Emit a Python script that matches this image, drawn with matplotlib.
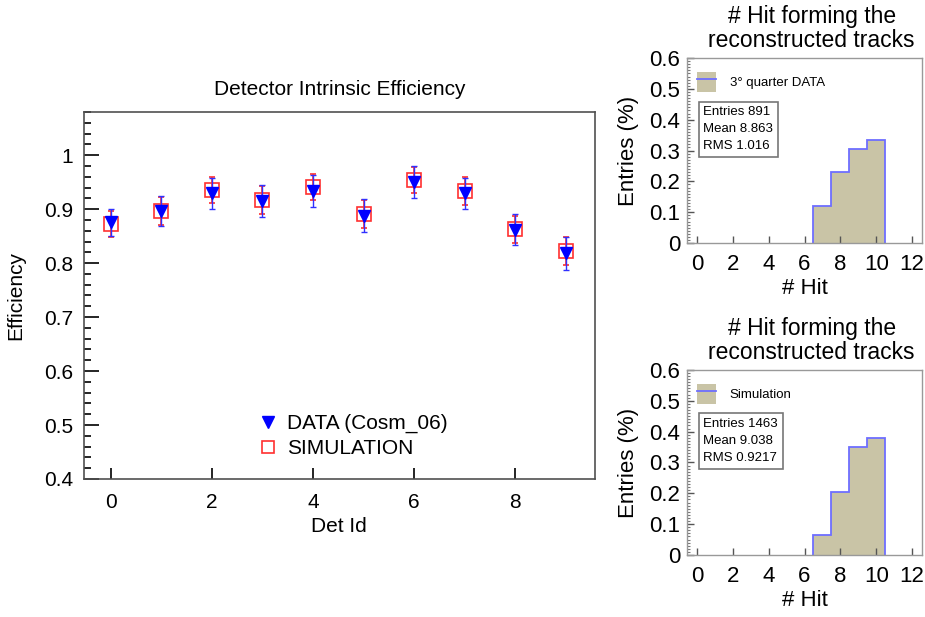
import numpy as np
import matplotlib.pyplot as plt
from matplotlib.patches import Patch
from matplotlib.lines import Line2D
from matplotlib.ticker import MultipleLocator

plt.rcParams['font.family'] = ['Liberation Sans', 'DejaVu Sans']

# efficiency per detector
det_id = [0, 1, 2, 3, 4, 5, 6, 7, 8, 9]
eff_data = [0.876, 0.897, 0.929, 0.915, 0.934, 0.888, 0.950, 0.929, 0.862, 0.818]
err_data = [0.025, 0.028, 0.029, 0.029, 0.030, 0.031, 0.030, 0.029, 0.029, 0.030]
eff_sim = [0.873, 0.897, 0.935, 0.917, 0.941, 0.891, 0.954, 0.933, 0.863, 0.822]
err_sim = [0.024, 0.026, 0.024, 0.026, 0.024, 0.026, 0.024, 0.026, 0.025, 0.026]

# hit multiplicity histograms (fraction of entries)
hit_edges = [6.5, 7.5, 8.5, 9.5, 10.5]
hits_data = [0.120, 0.231, 0.306, 0.334]
hits_sim = [0.066, 0.205, 0.350, 0.378]
stats_data = "Entries 891\nMean 8.863\nRMS 1.016"
stats_sim = "Entries 1463\nMean 9.038\nRMS 0.9217"

TAN = '#c9c4a6'
EDGE = '#6e6eff'
RED = '#ff3030'
BLUE = '#0000ff'

fig = plt.figure(figsize=(9.25, 6.17), dpi=100)

# ---- left panel: efficiency ----
ax = fig.add_axes([0.0908, 0.2237, 0.552, 0.5948])
ax.errorbar(det_id, eff_sim, yerr=err_sim, fmt='s', ms=10, mfc='none', mec=RED,
            mew=1.2, ecolor=RED, elinewidth=1.2, capsize=2, zorder=2)
ax.errorbar(det_id, eff_data, yerr=err_data, fmt='v', ms=9, color=BLUE,
            ecolor='#3030ff', elinewidth=1.0, capsize=2, zorder=3)
ax.set_xlim(-0.53, 9.57)
ax.set_ylim(0.4, 1.08)
ax.xaxis.set_major_locator(MultipleLocator(2))
ax.yaxis.set_minor_locator(MultipleLocator(0.02))
ax.set_yticks([0.4, 0.5, 0.6, 0.7, 0.8, 0.9, 1.0])
ax.set_yticklabels(['0.4', '0.5', '0.6', '0.7', '0.8', '0.9', '1'])
ax.tick_params(axis='y', which='major', direction='in', length=11, width=1.2, labelsize=15, pad=8)
ax.tick_params(axis='y', which='minor', direction='in', length=5, width=1.2)
ax.tick_params(axis='x', which='major', direction='in', length=8, width=1.2, labelsize=15, pad=10)
for s in ax.spines.values():
    s.set_color('#505050')
    s.set_linewidth(1.2)
ax.set_title('Detector Intrinsic Efficiency', fontsize=15, pad=12)
ax.set_xlabel('Det Id', fontsize=15, labelpad=4)
ax.set_ylabel('Efficiency', fontsize=15, labelpad=13)
leg_handles = [Line2D([], [], ls='none', marker='v', ms=9, color=BLUE),
               Line2D([], [], ls='none', marker='s', ms=9, mfc='none', mec=RED, mew=1.2)]
ax.legend(leg_handles, ['DATA (Cosm_06)', 'SIMULATION'], loc='lower left',
          bbox_to_anchor=(0.3, 0.005), frameon=False, fontsize=15,
          handletextpad=0.3, labelspacing=0.3, handlelength=1.2)


# ---- right panels: hit histograms ----
def hit_panel(rect, values, label, stats):
    a = fig.add_axes(rect)
    a.stairs(values, hit_edges, fill=True, facecolor=TAN, edgecolor='none', baseline=0)
    a.stairs(values, hit_edges, fill=False, edgecolor=EDGE, linewidth=1.3, baseline=0)
    a.set_xlim(-0.55, 12.55)
    a.set_ylim(0, 0.6)
    a.xaxis.set_major_locator(MultipleLocator(2))
    a.yaxis.set_minor_locator(MultipleLocator(0.01))
    a.set_yticks([0, 0.1, 0.2, 0.3, 0.4, 0.5, 0.6])
    a.set_yticklabels(['0', '0.1', '0.2', '0.3', '0.4', '0.5', '0.6'])
    a.tick_params(axis='both', which='major', direction='in', length=5, width=1,
                  labelsize=16, color='#555555')
    a.tick_params(axis='y', which='minor', direction='in', length=2.5, width=0.8,
                  color='#777777')
    a.tick_params(axis='x', pad=8)
    a.tick_params(axis='y', pad=5)
    for s in a.spines.values():
        s.set_color('#999999')
        s.set_linewidth(1.0)
    a.set_title('# Hit forming the\nreconstructed tracks', fontsize=16.5, pad=8,
                linespacing=1.05, x=0.53)
    a.set_xlabel('# Hit', fontsize=16, labelpad=2)
    a.set_ylabel('Entries (%)', fontsize=16, labelpad=7)
    h = (Patch(facecolor=TAN, edgecolor='none'), Line2D([], [], color=EDGE, lw=1.3))
    a.legend([h], [label], loc='upper left', bbox_to_anchor=(-0.01, 0.99), frameon=False,
             fontsize=9.5, handlelength=1.5, handleheight=2.0, handletextpad=1.0)
    a.text(0.07, 0.74, stats, transform=a.transAxes, fontsize=9.5, va='top', ha='left',
           linespacing=1.55,
           bbox=dict(boxstyle='square,pad=0.35', facecolor='white', edgecolor='#777777', lw=1.2))
    return a


hit_panel([0.7427, 0.606, 0.2541, 0.300], hits_data, '3° quarter DATA', stats_data)
hit_panel([0.7427, 0.1005, 0.2541, 0.300], hits_sim, 'Simulation', stats_sim)

fig.savefig('out.png', dpi=100)
